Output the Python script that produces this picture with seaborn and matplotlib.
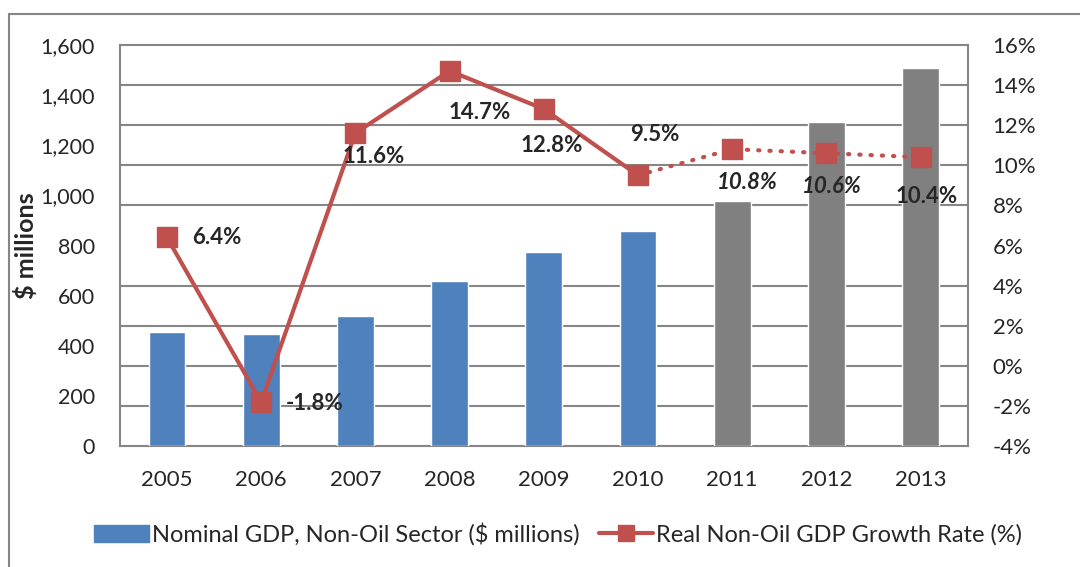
import numpy as np
import pandas as pd
import matplotlib
matplotlib.use('Agg')
import matplotlib.pyplot as plt
import seaborn as sns
from matplotlib.patches import Rectangle
from matplotlib.lines import Line2D
from matplotlib.patches import Patch

# Dados
years = ['2005', '2006', '2007', '2008', '2009', '2010', '2011', '2012', '2013']
nominal_gdp = [454, 447, 521, 660, 774, 858, 976, 1291, 1507]
growth_rate = [6.4, -1.8, 11.6, 14.7, 12.8, 9.5, 10.8, 10.6, 10.4]
is_projection = [False, False, False, False, False, False, True, True, True]
growth_labels = ['6.4%', '-1.8%', '11.6%', '14.7%', '12.8%', '9.5%', '10.8%', '10.6%', '10.4%']

blue = '#4F81BD'
grey = '#808080'
red = '#C0504D'
frame = '#868686'

sns.set_style('white')
plt.rcParams['font.family'] = ['Lato', 'DejaVu Sans']

df = pd.DataFrame({'ano': years, 'pib': nominal_gdp,
                   'tipo': ['proj' if p else 'real' for p in is_projection]})

fig = plt.figure(figsize=(10.8, 5.67), dpi=100)
ax = fig.add_axes([0.111, 0.213, 0.785, 0.708])

# Moldura externa
fig.patches.append(Rectangle((9 / 1080, -0.1), 1.2, 1 - 14 / 567 + 0.1,
                             transform=fig.transFigure, fill=False,
                             edgecolor=frame, linewidth=1.5, zorder=0))

sns.barplot(data=df, x='ano', y='pib', hue='tipo', palette={'real': blue, 'proj': grey},
            dodge=False, width=0.39, legend=False, ax=ax, saturation=1, zorder=3)

ax.set_ylim(0, 1600)
ax.set_xlim(-0.5, 8.5)
ax.set_yticks(np.arange(0, 1601, 200))
ax.set_yticklabels([f'{v:,}' for v in range(0, 1601, 200)], fontsize=15.5)
ax.set_yticks(np.arange(0, 1601, 160), minor=True)
ax.grid(which='minor', axis='y', color=frame, linewidth=1.5, zorder=0)
ax.set_axisbelow(True)
ax.set_xticks(np.arange(-0.5, 9, 1), minor=True)
ax.tick_params(axis='x', which='minor', length=8, color=frame, width=1.5, direction='out')
ax.tick_params(axis='x', which='major', length=0, pad=17, labelsize=16)
ax.tick_params(axis='y', which='both', length=0, pad=18)
ax.set_xlabel('')
ax.set_ylabel('$ millions', fontsize=18, fontweight='bold', labelpad=2)
for s in ax.spines.values():
    s.set_color(frame)
    s.set_linewidth(1.5)

# Eixo secundário (taxa de crescimento)
ax2 = ax.twinx()
ax2.set_ylim(-4, 16)
ax2.set_yticks(np.arange(-4, 17, 2))
ax2.set_yticklabels([f'{v}%' for v in range(-4, 17, 2)], fontsize=16)
ax2.tick_params(axis='y', length=0, pad=18)
for s in ax2.spines.values():
    s.set_visible(False)

x = np.arange(len(years))
ax2.plot(x[:6], growth_rate[:6], color=red, linewidth=3, zorder=4)
ax2.plot(x[5:], growth_rate[5:], color=red, linewidth=3, linestyle=(0, (0.3, 2.4)),
         dash_capstyle='round', zorder=4)
ax2.scatter(x, growth_rate, marker='s', s=210, color=red, zorder=5)

# Rótulos dos pontos (deslocamento em pontos)
offsets = [(18, 0, 'left'), (18, -1, 'left'), (13, -17, 'center'),
           (22, -30, 'center'), (6, -26, 'center'), (12, 29, 'center'),
           (11, -24, 'center'), (4, -24, 'center'), (4, -28, 'center')]
for i, (dx, dy, ha) in enumerate(offsets):
    ax2.annotate(growth_labels[i], (x[i], growth_rate[i]), xytext=(dx, dy),
                 textcoords='offset points', ha=ha, va='center', fontsize=16,
                 fontweight='bold', style='italic' if i in (6, 7) else 'normal',
                 zorder=6)

# Legenda
handles = [Patch(facecolor=blue, edgecolor=blue),
           Line2D([0], [0], color=red, linewidth=3, marker='s', markersize=12)]
fig.legend(handles, ['Nominal GDP, Non-Oil Sector ($ millions)', 'Real Non-Oil GDP Growth Rate (%)'],
           loc='center', bbox_to_anchor=(0.517, 0.058), ncol=2, frameon=False,
           fontsize=17, handlelength=2.3, handletextpad=0.15, columnspacing=0.8)

fig.savefig('out.png', dpi=100)
